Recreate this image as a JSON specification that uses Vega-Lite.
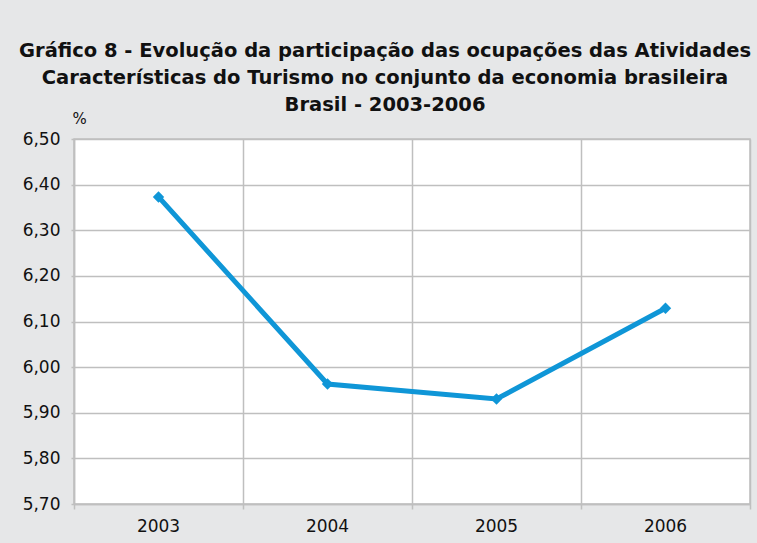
{
  "$schema": "https://vega.github.io/schema/vega-lite/v6.json",
  "autosize": {"type": "none"},
  "width": 676,
  "height": 365,
  "padding": {"left": 74, "top": 139, "right": 7, "bottom": 39},
  "background": "#e6e7e8",
  "title": {
    "text": ["Gráfico 8 - Evolução da participação das ocupações das Atividades", "Características do Turismo no conjunto da economia brasileira", "Brasil - 2003-2006"],
    "font": "DejaVu Sans",
    "fontSize": 19.5,
    "fontWeight": "bold",
    "color": "#111111",
    "lineHeight": 27,
    "anchor": "middle",
    "frame": "group",
    "dx": -27,
    "offset": -4
  },
  "data": {
    "values": [
      {"ano": "2003", "valor": 6.373},
      {"ano": "2004", "valor": 5.963},
      {"ano": "2005", "valor": 5.930},
      {"ano": "2006", "valor": 6.129}
    ]
  },
  "mark": {
    "type": "line",
    "color": "#0f96d7",
    "strokeWidth": 5,
    "point": {"shape": "diamond", "size": 130, "filled": true, "color": "#0f96d7"}
  },
  "encoding": {
    "x": {
      "field": "ano",
      "type": "ordinal",
      "scale": {"type": "band", "paddingInner": 0, "paddingOuter": 0},
      "axis": {
        "title": null,
        "labelAngle": 0,
        "bandPosition": 1,
        "tickExtra": true,
        "grid": true,
        "gridColor": "#bfbfbf",
        "gridWidth": 1.5,
        "domainColor": "#bfbfbf",
        "domainWidth": 1.5,
        "tickColor": "#bfbfbf",
        "tickWidth": 1.5,
        "tickSize": 5,
        "labelFont": "DejaVu Sans",
        "labelFontSize": 17,
        "labelColor": "#111111",
        "labelPadding": 9
      }
    },
    "y": {
      "field": "valor",
      "type": "quantitative",
      "scale": {"domain": [5.7, 6.5], "nice": false, "zero": false},
      "axis": {
        "title": "%",
        "titleAngle": 0,
        "titleX": 5,
        "titleY": -21,
        "titleAlign": "center",
        "titleBaseline": "middle",
        "titleFont": "DejaVu Sans",
        "titleFontSize": 15,
        "titleFontWeight": "normal",
        "titleColor": "#111111",
        "values": [5.7, 5.8, 5.9, 6.0, 6.1, 6.2, 6.3, 6.4, 6.5],
        "labelExpr": "replace(format(datum.value, '.2f'), '.', ',')",
        "grid": true,
        "gridColor": "#bfbfbf",
        "gridWidth": 1.5,
        "domainColor": "#bfbfbf",
        "domainWidth": 1.5,
        "tickColor": "#bfbfbf",
        "tickWidth": 1.5,
        "tickSize": 3,
        "labelFont": "DejaVu Sans",
        "labelFontSize": 17,
        "labelColor": "#111111",
        "labelPadding": 11
      }
    }
  },
  "config": {
    "view": {"stroke": "#bfbfbf", "strokeWidth": 1.5, "fill": "#ffffff"}
  }
}
